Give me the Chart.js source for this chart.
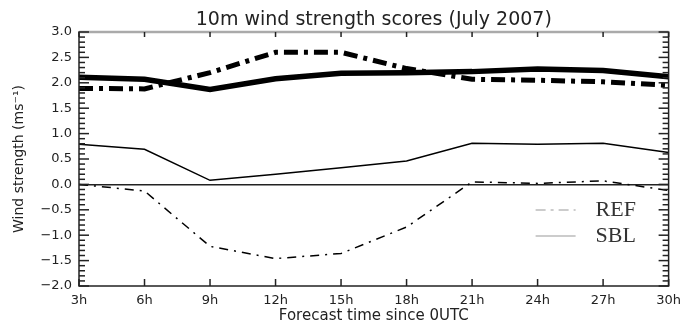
<!DOCTYPE html>
<html>
<head>
<meta charset="utf-8">
<script src="https://cdn.jsdelivr.net/npm/chart.js@4"></script>
<style>
  html, body { margin: 0; padding: 0; background: #fff; }
  #wrap { width: 688px; height: 325px; position: relative; }
</style>
</head>
<body>
<div id="wrap"><canvas id="wind"></canvas></div>
<script>
// forecast hours (x axis)
const hours = ['3h', '6h', '9h', '12h', '15h', '18h', '21h', '24h', '27h', '30h'];

// thick lines: rms wind strength score
const refRms = [1.89, 1.88, 2.2, 2.6, 2.6, 2.28, 2.07, 2.05, 2.02, 1.95];
const sblRms = [2.11, 2.07, 1.87, 2.08, 2.19, 2.2, 2.22, 2.27, 2.24, 2.12];

// thin lines: bias
const refBias = [0.0, -0.13, -1.22, -1.46, -1.36, -0.84, 0.05, 0.02, 0.07, -0.12];
const sblBias = [0.79, 0.69, 0.08, 0.2, 0.33, 0.46, 0.81, 0.79, 0.81, 0.63];

const yMin = -2.0;
const yMax = 3.0;

const font = 'DejaVu Sans';
const frameColor = '#222';

// IDL-style frame with inward major/minor ticks + the little legend
const axisDeco = {
  id: 'axisDeco',
  afterDraw(chart) {
    const { ctx, chartArea: a, scales } = chart;
    ctx.save();
    ctx.setLineDash([]);
    ctx.strokeStyle = frameColor;
    ctx.lineWidth = 1.5;
    ctx.strokeRect(a.left, a.top, a.right - a.left, a.bottom - a.top);
    // top edge looks lighter in the original
    ctx.strokeStyle = '#aaa';
    ctx.lineWidth = 2.5;
    ctx.beginPath();
    ctx.moveTo(a.left, a.top); ctx.lineTo(a.right, a.top);
    ctx.stroke();

    ctx.strokeStyle = frameColor;
    ctx.lineWidth = 1.5;
    const n = Math.round((yMax - yMin) * 10);
    for (let i = 0; i <= n; i++) {
      const y = scales.y.getPixelForValue(yMin + i / 10);
      const len = i % 5 === 0 ? 10 : 6;
      ctx.beginPath();
      ctx.moveTo(a.left, y); ctx.lineTo(a.left + len, y);
      ctx.stroke();
      ctx.beginPath();
      ctx.moveTo(a.right, y); ctx.lineTo(a.right - len, y);
      ctx.stroke();
    }
    for (let i = 0; i < hours.length; i++) {
      const x = scales.x.getPixelForValue(i);
      ctx.beginPath();
      ctx.moveTo(x, a.bottom); ctx.lineTo(x, a.bottom - 7);
      ctx.stroke();
      ctx.beginPath();
      ctx.moveTo(x, a.top); ctx.lineTo(x, a.top + 5);
      ctx.stroke();
    }

    // legend (REF / SBL) inside the plot, lower right
    const items = [chart.data.datasets[0], chart.data.datasets[1]];
    const lx = a.right - 133;
    let ly = a.top + 178;
    ctx.font = '22px "Liberation Serif"';
    ctx.textBaseline = 'middle';
    items.forEach(ds => {
      ctx.strokeStyle = '#999';
      ctx.lineWidth = 1;
      ctx.setLineDash(ds.borderDash && ds.borderDash.length ? [10, 5, 3, 5] : []);
      ctx.beginPath();
      ctx.moveTo(lx, ly); ctx.lineTo(lx + 40, ly);
      ctx.stroke();
      ctx.setLineDash([]);
      ctx.fillStyle = '#333';
      ctx.fillText(ds.label, lx + 60, ly);
      ly += 26;
    });
    ctx.restore();
  }
};

const mk = (label, data, width, dash) => ({
  label,
  data,
  borderColor: '#000',
  backgroundColor: '#000',
  borderWidth: width,
  borderDash: dash,
  pointRadius: 0,
  tension: 0,
  fill: false
});

new Chart(document.getElementById('wind'), {
  type: 'line',
  data: {
    labels: hours,
    datasets: [
      mk('REF', refRms, 5, [14, 6, 4, 6]),
      mk('SBL', sblRms, 5.5, []),
      mk('REF bias', refBias, 1.5, [9, 6, 2, 6]),
      mk('SBL bias', sblBias, 1.5, [])
    ]
  },
  options: {
    responsive: true,
    maintainAspectRatio: false,
    animation: false,
    layout: { padding: { top: 0, right: 12, bottom: 0, left: 0 } },
    plugins: {
      legend: { display: false },
      tooltip: { enabled: false }
    },
    scales: {
      // top axis only carries the title, centred over the plot like the original
      top: {
        type: 'category',
        position: 'top',
        offset: false,
        grid: { display: false, drawTicks: false },
        border: { display: false },
        ticks: { display: false },
        title: {
          display: true,
          text: '10m wind strength scores (July 2007)',
          color: '#222',
          font: { family: font, size: 19 },
          padding: { top: 9, bottom: 0 }
        },
        afterFit(scale) { scale.height = 32; }
      },
      x: {
        type: 'category',
        offset: false,
        grid: { display: false, drawTicks: false },
        border: { display: false },
        ticks: {
          color: '#222',
          padding: 7,
          maxRotation: 0,
          autoSkip: false,
          font: { family: font, size: 13 }
        },
        title: {
          display: true,
          text: 'Forecast time since 0UTC',
          color: '#222',
          font: { family: font, size: 15 },
          padding: { top: 0, bottom: 0 }
        },
        afterFit(scale) { scale.height = 39; }
      },
      y: {
        min: yMin,
        max: yMax,
        border: { display: false },
        grid: {
          drawTicks: false,
          color: ctx => (ctx.tick && ctx.tick.value === 0 ? frameColor : 'transparent'),
          lineWidth: 1.5
        },
        ticks: {
          stepSize: 0.5,
          padding: 7,
          color: '#222',
          font: { family: font, size: 13 },
          callback: v => v.toFixed(1).replace('-', '\u2212')
        },
        title: {
          display: true,
          text: 'Wind strength (ms\u207B\u00B9)',
          color: '#222',
          font: { family: font, size: 14 },
          padding: { top: 11, bottom: 0 }
        },
        afterFit(scale) { scale.width = 79; }
      }
    }
  },
  plugins: [axisDeco]
});
</script>
</body>
</html>
